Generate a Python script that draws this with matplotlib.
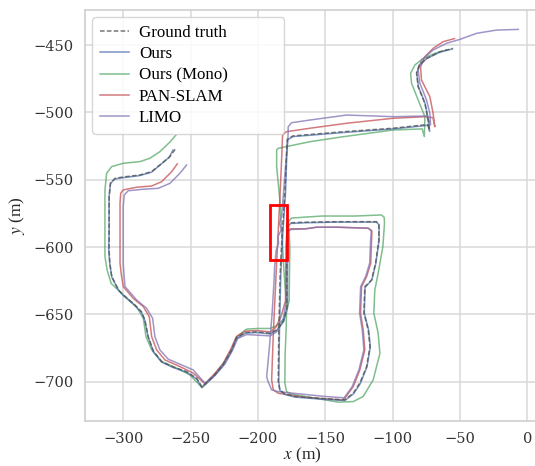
import matplotlib
matplotlib.use("Agg")
import matplotlib.pyplot as plt
from matplotlib.patches import Rectangle
import numpy as np

# Trajektorien (x, y) in Metern
gt = np.array([
    (-261.5, -527.5), (-265.5, -533), (-271.5, -538), (-279, -544), (-287.5, -546.5),
    (-300, -548), (-306, -549), (-309.5, -552.5), (-310.5, -562.5), (-310.5, -587),
    (-310.5, -602), (-310, -612), (-308.5, -622), (-303.5, -632), (-300, -635.5),
    (-292.5, -642), (-286.5, -648), (-284, -654), (-281.5, -666.5), (-277.5, -677.5),
    (-271.5, -685), (-263, -689), (-253, -692.5), (-245.5, -697.5), (-241.5, -704),
    (-233, -696), (-226, -687.5), (-219.5, -676.5), (-216, -667.5), (-209.5, -663.5),
    (-201, -663), (-191, -664), (-186, -661.5), (-181, -655), (-178.5, -645),
    (-178.5, -600), (-178.7, -584), (-176, -582), (-165, -581.6), (-140.5, -581.2),
    (-112, -581.2), (-110.2, -583), (-110.2, -595), (-112.6, -612), (-115.6, -624.5),
    (-120.6, -629.5), (-121.3, -649), (-118.1, -661.5), (-116.8, -674), (-119.3, -689),
    (-124.3, -701), (-129.2, -708.5), (-135.4, -713.5), (-152.7, -712.5), (-172.5, -711),
    (-180, -709), (-183.7, -706), (-184.9, -700), (-184.5, -663), (-183.5, -620),
    (-182, -590), (-180, -560), (-178.7, -530), (-178.2, -520), (-174, -517.5),
    (-136.7, -514.4), (-99.6, -511.8), (-77.3, -509.4), (-74, -509), (-72.7, -513),
    (-73.6, -505.7), (-76, -493.3), (-81, -481), (-82.2, -471), (-80.3, -465),
    (-74.8, -460), (-64.9, -455), (-55, -452.5),
])

ours = np.array([
    (-263, -528), (-266, -533.5), (-272, -538.5), (-279, -544.5), (-288, -547),
    (-300, -548.5), (-306.5, -549.5), (-309.5, -553), (-310.5, -563), (-310.5, -587),
    (-310.8, -602), (-310, -612.5), (-308.5, -622.5), (-303.5, -632), (-300, -636),
    (-292.5, -642.5), (-286.5, -648.5), (-284, -654.5), (-281.5, -667), (-277.5, -678),
    (-271.5, -685.5), (-263, -689.5), (-253, -693), (-245.5, -698), (-241.5, -704.5),
    (-233, -696.5), (-226, -688), (-219.5, -677), (-216, -668), (-209.5, -664),
    (-201, -663.5), (-191, -664.5), (-186, -662), (-181, -655.5), (-178, -645),
    (-178, -600), (-178.5, -585), (-175.5, -582.5), (-165, -582), (-140.5, -581.5),
    (-112, -581.5), (-110, -583.5), (-110, -595), (-112.4, -612), (-115.4, -624.5),
    (-120.4, -630), (-121, -649), (-117.8, -661.5), (-116.5, -674), (-119, -689),
    (-124, -701.5), (-129, -709), (-135.4, -714), (-152.7, -713), (-172.5, -711.5),
    (-180, -709.5), (-183.7, -706.5), (-184.5, -700), (-184, -663), (-183, -620),
    (-181.5, -590), (-179.5, -560), (-178.5, -530), (-178, -520.5), (-174, -518),
    (-136.7, -515), (-99.6, -512.3), (-77.3, -510), (-73.5, -509.5), (-72.5, -514),
    (-73.3, -506), (-75.8, -493.5), (-80.8, -481), (-82, -471), (-80, -465),
    (-74.5, -460), (-64.9, -455.3), (-56, -453),
])

ours_mono = np.array([
    (-261, -517), (-265.3, -522), (-272.8, -529.2), (-280.2, -534.1), (-287.6, -536.6),
    (-300, -537.8), (-308.6, -540.3), (-312.3, -545.2), (-313.6, -557.6), (-313.6, -587),
    (-313.6, -607), (-312, -617), (-309, -627), (-300, -635.6), (-290.1, -644.3),
    (-285.1, -653), (-283.1, -666.6), (-278.9, -676.4), (-271.5, -685.1), (-260.4, -690),
    (-250.5, -695), (-241.8, -704.1), (-233, -695.5), (-226, -687), (-219.5, -676),
    (-215.5, -666.5), (-208.5, -661), (-200, -660.5), (-191, -660.5), (-186, -658.5),
    (-180.5, -653), (-176.8, -640), (-176.3, -600), (-177.3, -581), (-175, -578.5),
    (-152.7, -577), (-128, -577), (-108.2, -576.2), (-106.2, -578), (-106, -582.4),
    (-107.2, -599.7), (-110.7, -619.5), (-113.2, -632), (-113.9, -649.2), (-110.7, -664),
    (-109.4, -679), (-114.4, -698.7), (-121.8, -711), (-129.2, -714.8), (-140.4, -715.2),
    (-175, -709.3), (-178.7, -707.4), (-180, -701), (-179.8, -680), (-179, -660),
    (-178.7, -645), (-180.5, -620), (-183.7, -565), (-186.1, -540), (-186.1, -528),
    (-185, -526.7), (-161.4, -521.8), (-136.7, -518.1), (-99.6, -513.1), (-78, -512.3),
    (-76.4, -518), (-76, -503.2), (-81, -490.8), (-85.9, -478.4), (-86.6, -471),
    (-83.4, -464.8), (-77.3, -460), (-68.6, -456.2), (-59.9, -453.7),
])

pan_slam = np.array([
    (-259.9, -538.3), (-264.1, -544.1), (-271.5, -551.5), (-278.9, -554.7), (-290.1, -555.6),
    (-300, -557.6), (-301.9, -560.1), (-302.4, -567.5), (-302.4, -587.3), (-302.4, -612),
    (-301.5, -620), (-300, -629.4), (-292.6, -638.1), (-285.1, -644.3), (-280.7, -651.7),
    (-278.9, -666.6), (-275.2, -676.4), (-269, -683.9), (-257.9, -688.8), (-248, -693.7),
    (-239.3, -701.5), (-232, -694), (-225.5, -686), (-220, -675.5), (-216, -666.5),
    (-209.5, -662.5), (-201, -662), (-191, -663), (-187, -660), (-183, -652),
    (-179.5, -640), (-179, -600), (-178.5, -588.5), (-175.5, -586.5), (-165, -586.5),
    (-156.4, -585.3), (-140.4, -585.3), (-118, -586), (-115.3, -588), (-115.6, -594.8),
    (-116.2, -612), (-119.3, -622), (-123, -629.4), (-123.8, -649.2), (-121.8, -661.6),
    (-120.6, -676.4), (-124.3, -691.3), (-129.2, -703.7), (-135.4, -712.3), (-137.8, -713.6),
    (-165.1, -711.6), (-184.9, -708.6), (-188.6, -706.1), (-189.8, -698.7), (-188.5, -663),
    (-186.5, -620), (-185, -590), (-183.5, -560), (-182.4, -535), (-181.7, -517),
    (-179, -514.4), (-161.4, -511.8), (-134.1, -508.1), (-99.6, -504.4), (-74.8, -503.2),
    (-70, -504), (-68.6, -510.7), (-69.9, -500.7), (-72.3, -488.4), (-78.5, -476),
    (-79.2, -466.1), (-76, -458.7), (-69.9, -452.5), (-62.4, -447.5), (-54, -445.2),
])

limo = np.array([
    (-253, -539.1), (-257.9, -545.2), (-265.3, -552.7), (-274, -556.4), (-285.1, -557.1),
    (-296.3, -558.2), (-299.3, -561.4), (-300, -570), (-300, -612.1), (-299.5, -620),
    (-298.7, -629.4), (-290.1, -639.3), (-282.7, -645.5), (-278.2, -652.9), (-276.5, -666.6),
    (-272.8, -676.4), (-266.6, -683.3), (-256.6, -687.6), (-248, -691.3), (-239.3, -701.2),
    (-231.5, -695), (-224.5, -687), (-219, -677), (-215, -668), (-208.5, -665),
    (-200, -665.5), (-191, -666), (-186, -663), (-181.5, -655), (-179, -640),
    (-179, -600), (-178.5, -589), (-175.5, -587), (-165.1, -586.6), (-156.4, -585.3),
    (-140.4, -585.3), (-118.1, -586.1), (-115.8, -588), (-116.3, -595), (-117, -612),
    (-120, -622), (-123.7, -629.4), (-124.5, -649), (-122.5, -661.6), (-121.3, -676.4),
    (-125, -691.3), (-130, -703.7), (-136, -712), (-150, -711), (-170, -709),
    (-184.9, -707.4), (-189.8, -706.1), (-192.4, -700), (-193.5, -696.3), (-191.5, -675),
    (-189.5, -650), (-188, -625), (-187.6, -614.6), (-186.4, -602.2), (-184.6, -597.2),
    (-185.1, -592.3), (-182.7, -587.3), (-183.9, -582.4), (-182.2, -575), (-181.4, -565),
    (-179.5, -540), (-177.7, -520), (-177.5, -510.7), (-175, -507.7), (-161.4, -505.7),
    (-134.1, -502), (-99.6, -503.2), (-74.8, -502.7), (-71.8, -509.4), (-72.3, -500.7),
    (-74.8, -490.8), (-79.7, -478.4), (-81, -468.6), (-78.5, -461.1), (-69.9, -453.7),
    (-59.9, -448.7), (-50, -445.8), (-37.6, -441.3), (-22.8, -438.9), (-6.7, -438.4),
])

labels = ["Ground truth", "Ours", "Ours (Mono)", "PAN-SLAM", "LIMO"]
x_ticks = [-300, -250, -200, -150, -100, -50, 0]
y_ticks = [-700, -650, -600, -550, -500, -450]
# markierter Bereich (x0, y0, Breite, Höhe)
box = (-191.1, -609.6, 12.4, 40.8)

plt.rcParams["mathtext.fontset"] = "stix"

fig = plt.figure(figsize=(5.35, 4.66), dpi=100)
ax = fig.add_axes([0.1589, 0.0972, 0.8467, 0.8813])
ax.set_facecolor("white")

ax.plot(ours[:, 0], ours[:, 1], color="#4C72B0", lw=1.1, alpha=0.75, label=labels[1], zorder=3)
ax.plot(ours_mono[:, 0], ours_mono[:, 1], color="#55A868", lw=1.1, alpha=0.75, label=labels[2], zorder=2)
ax.plot(pan_slam[:, 0], pan_slam[:, 1], color="#C44E52", lw=1.1, alpha=0.75, label=labels[3], zorder=2)
ax.plot(limo[:, 0], limo[:, 1], color="#8172B3", lw=1.1, alpha=0.75, label=labels[4], zorder=2)
ax.plot(gt[:, 0], gt[:, 1], color="#555555", lw=1.1, ls=(0, (3, 1.5)), alpha=0.8, label=labels[0], zorder=4)

ax.add_patch(Rectangle(box[:2], box[2], box[3], fill=False, edgecolor="red", lw=2, zorder=5))

ax.set_xlim(-328.4, 8.0)
ax.set_ylim(-729.0, -424.0)
ax.set_xticks(x_ticks)
ax.set_yticks(y_ticks)
ax.grid(True, color="#d9d9d9", lw=1.1)
ax.set_axisbelow(True)
for s in ax.spines.values():
    s.set_color("#d0d0d0")
    s.set_linewidth(1.25)
ax.tick_params(length=0, pad=8, labelsize=10.5, labelcolor="#333333")
for t in ax.get_xticklabels() + ax.get_yticklabels():
    t.set_fontfamily("DejaVu Serif")

ax.set_xlabel("$x$ (m)", fontsize=12.5, family="Liberation Serif", color="#262626")
ax.set_ylabel("$y$ (m)", fontsize=12.5, family="Liberation Serif", color="#262626")
ax.xaxis.set_label_coords(0.481, -0.06)
ax.yaxis.set_label_coords(-0.128, 0.5)

h, l = ax.get_legend_handles_labels()
order = [4, 0, 1, 2, 3]
leg = ax.legend([h[i] for i in order], [l[i] for i in order], loc="upper left",
                bbox_to_anchor=(0.0161, 0.0, 0.423, 0.982), mode="expand",
                prop={"family": "Liberation Serif", "size": 12.2},
                handlelength=1.7, handletextpad=0.6, labelspacing=0.31,
                borderpad=0.45, borderaxespad=0.0, framealpha=0.85,
                edgecolor="#d0d0d0", fancybox=True)

fig.savefig("out.png", dpi=100)
